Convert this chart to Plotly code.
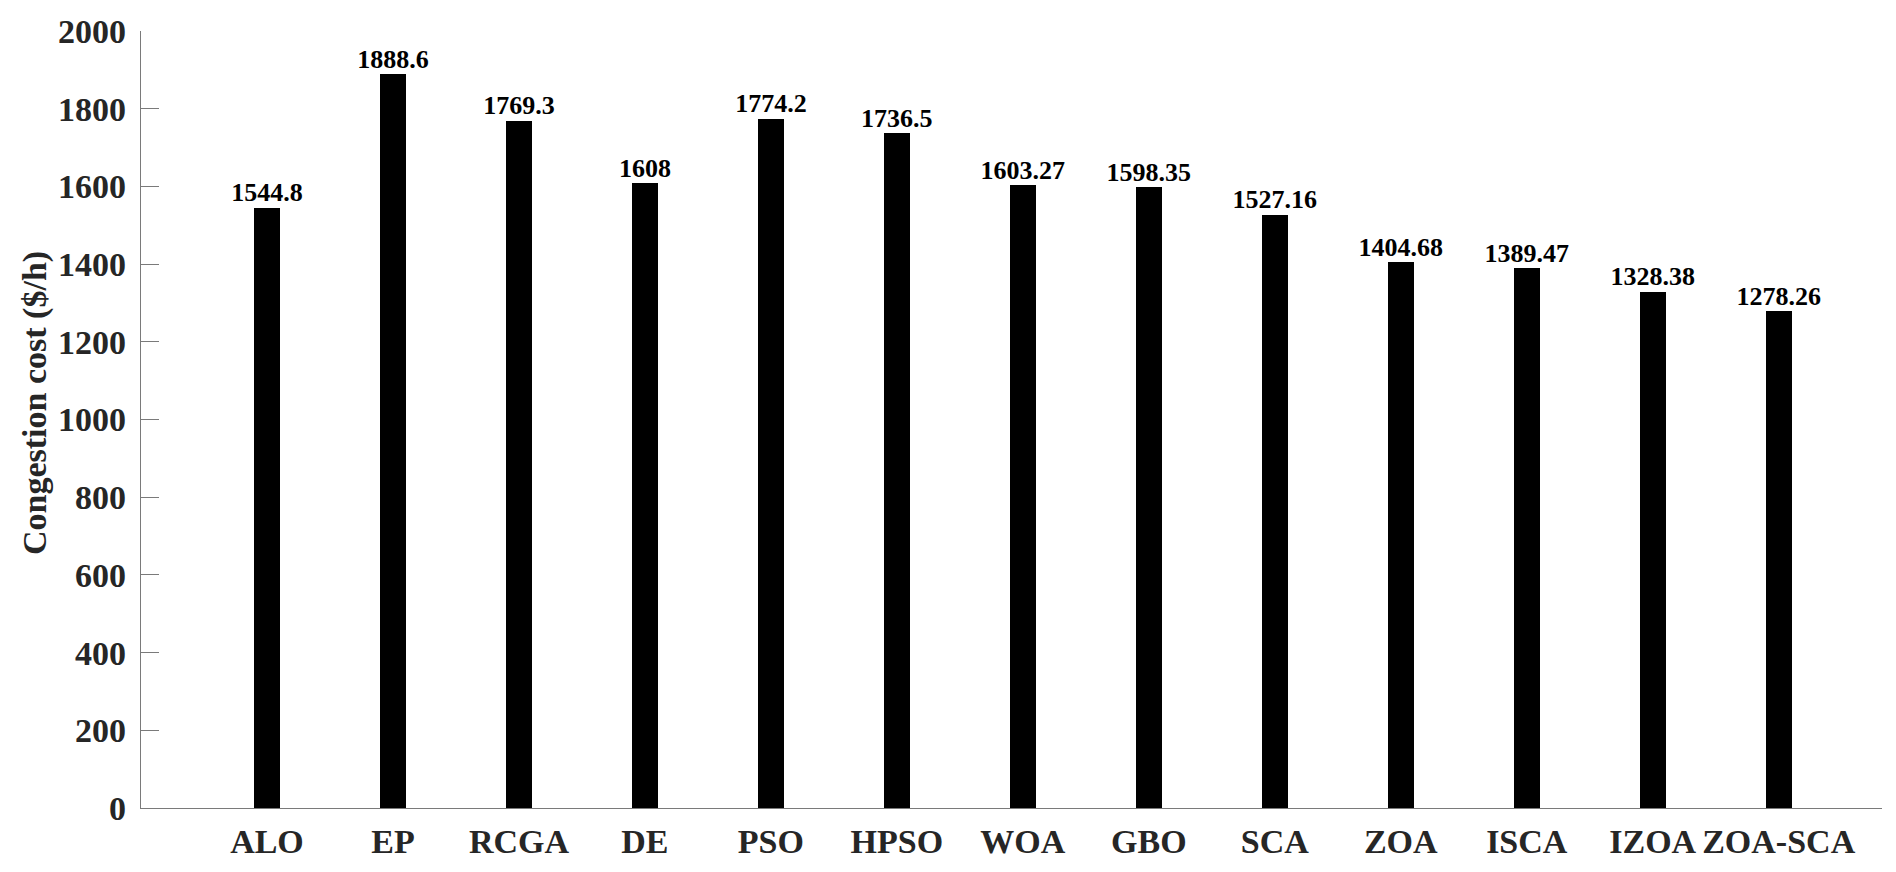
import plotly.graph_objects as go

categories = ["ALO", "EP", "RCGA", "DE", "PSO", "HPSO", "WOA", "GBO", "SCA", "ZOA", "ISCA", "IZOA", "ZOA-SCA"]
costs = [1544.8, 1888.6, 1769.3, 1608, 1774.2, 1736.5, 1603.27, 1598.35, 1527.16, 1404.68, 1389.47, 1328.38, 1278.26]
labels = ["1544.8", "1888.6", "1769.3", "1608", "1774.2", "1736.5", "1603.27", "1598.35", "1527.16", "1404.68", "1389.47", "1328.38", "1278.26"]
y_ticks = [0, 200, 400, 600, 800, 1000, 1200, 1400, 1600, 1800, 2000]

FONT = "Liberation Serif, Times New Roman, serif"
# page body has an 8px default margin; figure sized to fit inside the window
OFF = 8
W, H = 1880, 856
L, R, T, B = 141 - OFF, 6, 31 - OFF, 56

fig = go.Figure()
fig.add_trace(go.Bar(
    x=categories, y=costs, width=0.206,
    marker=dict(color="black", line=dict(width=0)),
    hoverinfo="x+y", showlegend=False,
))
fig.add_trace(go.Scatter(
    x=categories, y=costs, mode="text", text=labels,
    textposition="top center",
    textfont=dict(family=FONT, size=26, color="black", weight="bold"),
    showlegend=False, hoverinfo="skip", cliponaxis=False,
))

fig.update_layout(
    width=W, height=H,
    margin=dict(l=L, r=R, t=T, b=B, pad=0, autoexpand=False),
    paper_bgcolor="white", plot_bgcolor="white",
    font=dict(family=FONT, color="#262626"),
    bargap=0,
)
fig.update_xaxes(
    type="category", range=[-1, 12.82], automargin=False,
    showline=True, linecolor="#7a7a7a", linewidth=1.2,
    ticks="", showgrid=False, zeroline=False,
    tickfont=dict(family=FONT, size=34, color="#262626", weight="bold"),
    ticklabelstandoff=3,
)
fig.update_yaxes(
    range=[0, 2000], tickvals=y_ticks, automargin=False,
    showline=True, linecolor="#7a7a7a", linewidth=1.2,
    ticks="inside", ticklen=18, tickcolor="#7a7a7a", tickwidth=1.2,
    showgrid=False, zeroline=False,
    tickfont=dict(family=FONT, size=34, color="#262626", weight="bold"),
    ticklabelstandoff=7,
)
fig.add_annotation(
    text="Congestion cost ($/h)", textangle=-90,
    xref="paper", yref="paper",
    x=(35 - OFF - L) / (W - L - R), y=(H - B - (403 - OFF)) / (H - T - B),
    xanchor="center", yanchor="middle", showarrow=False,
    font=dict(family=FONT, size=34, color="#262626", weight="bold"),
)

fig.write_html("out.html")
